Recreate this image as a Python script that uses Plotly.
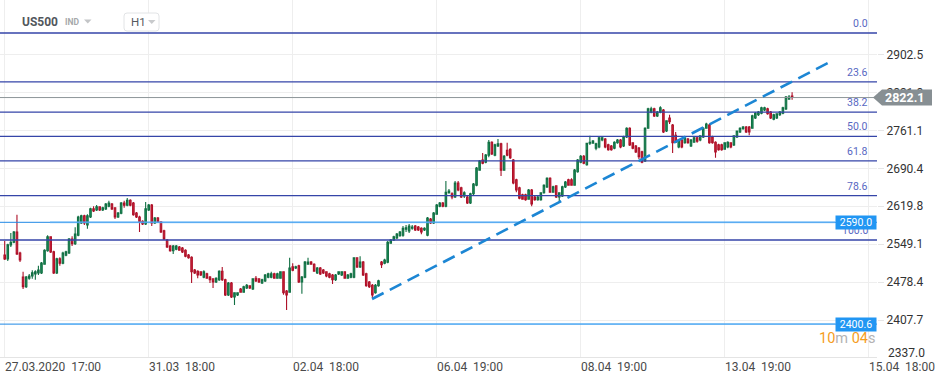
import plotly.graph_objects as go

# ---------------- data ----------------
tick_labels = ["27.03.2020\u00a0\u00a017:00", "31.03\u00a0\u00a018:00", "02.04\u00a0\u00a018:00",
               "06.04\u00a0\u00a019:00", "08.04\u00a0\u00a019:00", "13.04\u00a0\u00a019:00",
               "15.04\u00a0\u00a018:00"]
tick_bars = [0, 47, 94, 141, 188, 235, 282]

price_ticks = [2407.7, 2478.4, 2549.1, 2619.8, 2690.4, 2761.1, 2831.8, 2902.5]
price_tick_low = 2337.0

fib_labels = ["0.0", "23.6", "38.2", "50.0", "61.8", "78.6", "100.0"]
fib_prices = [2942.2, 2851.3, 2795.1, 2749.7, 2704.2, 2639.5, 2557.1]

support_prices = [2590.0, 2400.6]
last_price = 2822.1
trend_bars = [119.9, 268.7]
trend_prices = [2447.3, 2886.4]

opens = [
    2529, 2522, 2548, 2553, 2572, 2533, 2488, 2470, 2486, 2490, 2494, 2496, 2496, 2512, 2537, 2563,
    2535, 2496, 2522, 2514, 2529, 2533, 2559, 2550, 2566, 2589, 2602, 2585, 2600, 2615, 2613, 2619,
    2613, 2615, 2620, 2624, 2617, 2600, 2607, 2626, 2622, 2631, 2626, 2607, 2600, 2592, 2587, 2613,
    2622, 2589, 2598, 2591, 2574, 2557, 2546, 2537, 2540, 2544, 2542, 2538, 2529, 2525, 2501, 2499,
    2498,
    2488, 2494, 2488, 2485, 2479, 2483, 2499, 2483, 2455, 2477, 2451, 2455, 2466, 2460, 2468, 2472,
    2466, 2486, 2485, 2477, 2481, 2488, 2488, 2494, 2486, 2486, 2498, 2462, 2460, 2507, 2505, 2509,
    2479, 2488, 2512, 2516, 2512, 2496, 2505, 2501, 2498, 2494, 2492, 2483, 2494, 2492, 2498, 2486,
    2488, 2488, 2524, 2507, 2516, 2494, 2479, 2473, 2459, 2472, 2516, 2514, 2516, 2551, 2557, 2561,
    2565,
    2566, 2577, 2574, 2579, 2583, 2581, 2579, 2576, 2566, 2596, 2589, 2605, 2620, 2626, 2620, 2645,
    2643, 2637, 2663, 2654, 2639, 2637, 2626, 2643, 2659, 2687, 2706, 2702, 2715, 2739, 2715, 2732,
    2736, 2687, 2724, 2726, 2706, 2669, 2654, 2641, 2641, 2633, 2650, 2637, 2632, 2632, 2645, 2656,
    2672, 2646, 2658, 2637, 2639, 2656, 2669, 2669, 2659, 2684, 2702, 2713, 2697, 2737, 2737, 2728,
    2730,
    2743, 2745, 2734, 2732, 2728, 2738, 2743, 2732, 2749, 2765, 2738, 2732, 2728, 2721, 2704, 2765,
    2795, 2801, 2788, 2795, 2799, 2760, 2784, 2771, 2752, 2730, 2743, 2738, 2745, 2732, 2739, 2747,
    2743, 2749, 2765, 2771, 2749, 2739, 2734, 2734, 2726, 2730, 2738, 2734, 2749, 2758, 2764, 2767,
    2767, 2765, 2784, 2790, 2793, 2799, 2801, 2795, 2782, 2784, 2790, 2793, 2801, 2819, 2825,
]
highs = [
    2555, 2550, 2570, 2574, 2604, 2535, 2498, 2490, 2494, 2501, 2501, 2509, 2516, 2540, 2566, 2564,
    2537, 2524, 2525, 2535, 2537, 2561, 2564, 2581, 2602, 2604, 2604, 2605, 2617, 2620, 2622, 2620,
    2619, 2626, 2630, 2626, 2618, 2609, 2628, 2630, 2635, 2633, 2628, 2609, 2602, 2594, 2628, 2624,
    2624, 2600, 2600, 2592, 2576, 2559, 2548, 2548, 2548, 2546, 2544, 2540, 2531, 2527, 2503, 2501,
    2499,
    2501, 2496, 2490, 2486, 2488, 2501, 2507, 2485, 2479, 2479, 2460, 2460, 2468, 2472, 2475, 2473,
    2486, 2490, 2486, 2485, 2494, 2496, 2498, 2496, 2496, 2499, 2499, 2464, 2524, 2514, 2509, 2511,
    2490, 2518, 2524, 2518, 2514, 2507, 2507, 2503, 2499, 2496, 2494, 2494, 2499, 2499, 2499, 2494,
    2496, 2525, 2525, 2527, 2518, 2496, 2481, 2475, 2475, 2483, 2518, 2522, 2555, 2559, 2565, 2570,
    2574,
    2583, 2585, 2587, 2585, 2585, 2583, 2581, 2581, 2600, 2598, 2609, 2624, 2628, 2628, 2667, 2652,
    2646, 2667, 2667, 2656, 2648, 2639, 2645, 2663, 2693, 2706, 2719, 2717, 2743, 2741, 2736, 2745,
    2738, 2715, 2738, 2728, 2708, 2671, 2656, 2643, 2643, 2652, 2652, 2639, 2639, 2646, 2661, 2674,
    2674, 2658, 2659, 2646, 2658, 2667, 2671, 2672, 2689, 2708, 2715, 2715, 2738, 2751, 2743, 2738,
    2749,
    2749, 2747, 2736, 2734, 2741, 2745, 2745, 2751, 2767, 2767, 2739, 2734, 2730, 2723, 2767, 2803,
    2805, 2803, 2797, 2806, 2801, 2780, 2790, 2773, 2758, 2745, 2745, 2749, 2747, 2745, 2749, 2749,
    2752, 2767, 2775, 2773, 2751, 2741, 2736, 2736, 2739, 2741, 2739, 2752, 2761, 2767, 2769, 2769,
    2769, 2790, 2795, 2797, 2805, 2805, 2803, 2797, 2792, 2793, 2797, 2805, 2825, 2827, 2832,
]
lows = [
    2520, 2518, 2544, 2551, 2529, 2516, 2466, 2468, 2483, 2485, 2483, 2492, 2494, 2511, 2535, 2533,
    2494, 2494, 2509, 2512, 2527, 2531, 2546, 2548, 2564, 2587, 2585, 2578, 2598, 2609, 2611, 2611,
    2611, 2613, 2618, 2613, 2596, 2598, 2605, 2617, 2620, 2620, 2602, 2598, 2572, 2585, 2585, 2611,
    2583, 2587, 2589, 2570, 2557, 2542, 2535, 2531, 2538, 2537, 2533, 2525, 2522, 2477, 2494, 2486,
    2490,
    2486, 2485, 2477, 2468, 2477, 2481, 2481, 2453, 2453, 2449, 2436, 2453, 2459, 2459, 2466, 2466,
    2464, 2479, 2477, 2475, 2479, 2486, 2486, 2485, 2485, 2485, 2455, 2427, 2459, 2499, 2503, 2477,
    2457, 2486, 2511, 2511, 2498, 2494, 2492, 2494, 2488, 2486, 2475, 2481, 2492, 2490, 2485, 2485,
    2486, 2486, 2505, 2505, 2490, 2470, 2468, 2449, 2457, 2470, 2505, 2512, 2514, 2550, 2555, 2559,
    2563,
    2563, 2572, 2570, 2576, 2574, 2574, 2568, 2574, 2564, 2587, 2587, 2604, 2618, 2618, 2618, 2643,
    2633, 2635, 2648, 2635, 2635, 2624, 2624, 2641, 2657, 2686, 2698, 2700, 2711, 2715, 2713, 2730,
    2676, 2686, 2713, 2708, 2661, 2646, 2633, 2632, 2630, 2632, 2620, 2630, 2630, 2630, 2643, 2654,
    2645, 2645, 2635, 2628, 2637, 2654, 2658, 2658, 2658, 2682, 2700, 2698, 2695, 2734, 2736, 2724,
    2728,
    2741, 2728, 2723, 2723, 2726, 2736, 2728, 2730, 2747, 2732, 2726, 2719, 2708, 2700, 2702, 2764,
    2793, 2786, 2786, 2793, 2756, 2758, 2773, 2719, 2738, 2728, 2728, 2736, 2736, 2730, 2738, 2738,
    2741, 2747, 2764, 2736, 2736, 2710, 2723, 2723, 2725, 2728, 2728, 2732, 2747, 2756, 2762, 2756,
    2752, 2764, 2782, 2788, 2791, 2797, 2790, 2782, 2780, 2782, 2788, 2791, 2799, 2818, 2818,
]
closes = [
    2522, 2548, 2553, 2572, 2531, 2520, 2470, 2488, 2490, 2496, 2498, 2501, 2514, 2538, 2563, 2535,
    2496, 2522, 2514, 2533, 2535, 2559, 2550, 2568, 2600, 2602, 2589, 2602, 2615, 2611, 2619, 2613,
    2617, 2624, 2626, 2615, 2600, 2607, 2626, 2622, 2631, 2622, 2604, 2600, 2591, 2587, 2615, 2622,
    2589, 2598, 2591, 2572, 2559, 2544, 2537, 2546, 2546, 2538, 2535, 2527, 2524, 2498, 2496, 2492,
    2492,
    2498, 2486, 2483, 2479, 2486, 2499, 2483, 2455, 2477, 2451, 2459, 2459, 2460, 2470, 2473, 2468,
    2485, 2481, 2479, 2483, 2492, 2494, 2494, 2486, 2494, 2498, 2459, 2455, 2505, 2501, 2507, 2479,
    2488, 2516, 2516, 2512, 2499, 2505, 2494, 2496, 2490, 2488, 2483, 2492, 2498, 2498, 2486, 2492,
    2494, 2524, 2507, 2516, 2492, 2472, 2470, 2455, 2473, 2481, 2511, 2520, 2553, 2557, 2563, 2568,
    2572,
    2579, 2580, 2583, 2581, 2576, 2576, 2572, 2579, 2598, 2589, 2607, 2622, 2626, 2620, 2646, 2648,
    2637, 2663, 2650, 2637, 2645, 2626, 2643, 2661, 2691, 2704, 2700, 2715, 2739, 2717, 2734, 2736,
    2687, 2713, 2715, 2710, 2663, 2650, 2635, 2633, 2632, 2650, 2624, 2632, 2637, 2645, 2659, 2672,
    2646, 2656, 2637, 2645, 2656, 2665, 2659, 2659, 2687, 2706, 2713, 2700, 2737, 2739, 2741, 2736,
    2747,
    2747, 2730, 2725, 2725, 2739, 2743, 2730, 2749, 2765, 2734, 2728, 2721, 2712, 2702, 2765, 2801,
    2801, 2788, 2795, 2803, 2758, 2779, 2777, 2738, 2739, 2743, 2730, 2747, 2738, 2743, 2747, 2741,
    2751, 2765, 2773, 2738, 2738, 2721, 2725, 2725, 2738, 2739, 2730, 2751, 2760, 2765, 2767, 2758,
    2758, 2788, 2793, 2795, 2803, 2803, 2792, 2784, 2790, 2792, 2795, 2803, 2823, 2823, 2822.1,
]

# ---------------- geometry of the chart frame ----------------
W, H = 945, 383
PLOT_R, PLOT_B = 877, 357          # plot area right / bottom edge in px
BAR_PX = 144 / 47                  # pixel distance between hourly bars
FIRST_PX = 4.7
X_RANGE = [-FIRST_PX / BAR_PX, (PLOT_R - FIRST_PX) / BAR_PX]
Y_RANGE = [2339.4, 3003.6]


def px(x):
    return x / PLOT_R


def py(y):
    return 1 - y / PLOT_B


FONT = "Roboto"
bars = list(range(len(opens)))

fig = go.Figure()
fig.add_trace(go.Candlestick(
    x=bars, open=opens, high=highs, low=lows, close=closes,
    increasing=dict(line=dict(color="#116f43", width=1.1), fillcolor="#1c9a60"),
    decreasing=dict(line=dict(color="#ad1028", width=1.1), fillcolor="#d92a3e"),
    whiskerwidth=0, hoverinfo="skip", showlegend=False,
))

shapes = []
# support / resistance lines (light blue)
for p in support_prices:
    shapes.append(dict(type="line", xref="paper", yref="y", x0=0, x1=1, y0=p, y1=p,
                       line=dict(color="#1e88e5", width=1), layer="above"))
    shapes.append(dict(type="line", xref="paper", yref="y", x0=px(50), x1=px(835), y0=p, y1=p,
                       line=dict(color="rgba(100,181,246,0.6)", width=2), layer="above"))
# fibonacci lines
for p in fib_prices:
    shapes.append(dict(type="line", xref="paper", yref="y", x0=0, x1=1, y0=p, y1=p,
                       line=dict(color="#3545a8", width=1.3), layer="above"))
# last price line
shapes.append(dict(type="line", xref="paper", yref="y", x0=0, x1=1, y0=last_price, y1=last_price,
                   line=dict(color="#8d9599", width=1), layer="above"))
# dashed trend line
shapes.append(dict(type="line", xref="x", yref="y", x0=trend_bars[0], x1=trend_bars[1],
                   y0=trend_prices[0], y1=trend_prices[1],
                   line=dict(color="#1c86d4", width=2.6, dash="13px,7px"), layer="above"))
# last price tag (arrow shaped)
shapes.append(dict(type="path", xref="paper", yref="y", xsizemode="pixel", ysizemode="pixel",
                   xanchor=1, yanchor=last_price,
                   path="M -4,0 L 5,8 L 55,8 L 55,-8 L 5,-8 Z",
                   fillcolor="#878f93", line=dict(width=0), layer="above"))
# header: timeframe box
x0b, x1b, y0b, y1b, r = 124, 159, 13, 31, 3
shapes.append(dict(type="path", xref="paper", yref="paper",
                   path=(f"M {px(x0b + r)},{py(y0b)} L {px(x1b - r)},{py(y0b)} "
                         f"Q {px(x1b)},{py(y0b)} {px(x1b)},{py(y0b + r)} "
                         f"L {px(x1b)},{py(y1b - r)} Q {px(x1b)},{py(y1b)} {px(x1b - r)},{py(y1b)} "
                         f"L {px(x0b + r)},{py(y1b)} Q {px(x0b)},{py(y1b)} {px(x0b)},{py(y1b - r)} "
                         f"L {px(x0b)},{py(y0b + r)} Q {px(x0b)},{py(y0b)} {px(x0b + r)},{py(y0b)} Z"),
                   fillcolor="white", line=dict(color="#e2e4e6", width=1), layer="above"))
for (ax, ay, col) in [(84, 19.5, "#c3c5c7"), (148, 20, "#c8cacc")]:
    shapes.append(dict(type="path", xref="paper", yref="paper",
                       path=f"M {px(ax)},{py(ay)} L {px(ax + 7.5)},{py(ay)} L {px(ax + 3.75)},{py(ay + 4)} Z",
                       fillcolor=col, line=dict(width=0), layer="above"))

ann = []
# time labels (left-aligned on their grid line)
for b, t in zip(tick_bars, tick_labels):
    ann.append(dict(x=b, y=0, xref="x", yref="paper", text=t, showarrow=False,
                    xanchor="left", yanchor="top", xshift=-2, yshift=-1,
                    font=dict(family=FONT, size=12, color="#4a4a4a")))
# lowest price label sitting on the bottom edge
ann.append(dict(x=1, y=py(353), xref="paper", yref="paper", text=f"{price_tick_low:.1f}",
                showarrow=False, xanchor="left", yanchor="middle", xshift=9,
                font=dict(family=FONT, size=12, color="#333333")))
# fib labels
for p, t in zip(fib_prices, fib_labels):
    ann.append(dict(x=1, y=p, xref="paper", yref="y", text=t, showarrow=False,
                    xanchor="right", yanchor="bottom", xshift=-7, yshift=1,
                    font=dict(family=FONT, size=10.5, color="#5867c2")))
# level boxes
for p in support_prices:
    ann.append(dict(x=1, y=p, xref="paper", yref="y", text=f"{p:.1f}", showarrow=False,
                    xanchor="right", yanchor="middle", width=40, height=13, borderpad=0,
                    bgcolor="#2196f3", font=dict(family=FONT, size=10.5, color="white")))
# last price text
ann.append(dict(x=1, y=last_price, xref="paper", yref="y", text=f"<b>{last_price:.1f}</b>",
                showarrow=False, xanchor="center", yanchor="middle", xshift=27,
                font=dict(family=FONT, size=12.5, color="white")))
# countdown
ann.append(dict(x=1, y=py(338), xref="paper", yref="paper",
                text=('<span style="color:#f59d1c">10</span><span style="color:#b3b3b3">m</span> '
                      '<span style="color:#f59d1c">04</span><span style="color:#b3b3b3">s</span>'),
                showarrow=False, xanchor="right", yanchor="middle",
                font=dict(family=FONT, size=14.5)))
# header texts
ann.append(dict(x=px(20), y=py(22), xref="paper", yref="paper", text="<b>US500</b>", showarrow=False,
                xanchor="left", yanchor="middle", font=dict(family=FONT, size=12, color="#52575c")))
ann.append(dict(x=px(63), y=py(22), xref="paper", yref="paper", text="<b>IND</b>", showarrow=False,
                xanchor="left", yanchor="middle", font=dict(family=FONT, size=8.5, color="#a6a8aa")))
ann.append(dict(x=px(129), y=py(22), xref="paper", yref="paper", text="H1", showarrow=False,
                xanchor="left", yanchor="middle", font=dict(family=FONT, size=11.5, color="#55595e")))

fig.update_layout(
    width=W, height=H,
    margin=dict(l=0, r=W - PLOT_R, t=0, b=H - PLOT_B),
    paper_bgcolor="white", plot_bgcolor="white",
    showlegend=False, dragmode=False,
    shapes=shapes, annotations=ann,
    xaxis=dict(range=X_RANGE, tickvals=tick_bars, showticklabels=False, showgrid=True,
               gridcolor="#eeeeee", gridwidth=1, zeroline=False, showline=True,
               linecolor="#e4e4e4", linewidth=1, rangeslider=dict(visible=False), fixedrange=True),
    yaxis=dict(range=Y_RANGE, side="right", tickvals=price_ticks,
               ticktext=[f"{v:.1f}" for v in price_ticks], showgrid=True, gridcolor="#eeeeee",
               zeroline=False, showline=False, ticks="outside", ticklen=6, tickcolor="#e6e6e6",
               tickfont=dict(family=FONT, size=12, color="#333333"), fixedrange=True),
)

fig.write_html("out.html", config={"displayModeBar": False},
               post_script="document.body.style.margin='0';document.body.style.overflow='hidden';")
